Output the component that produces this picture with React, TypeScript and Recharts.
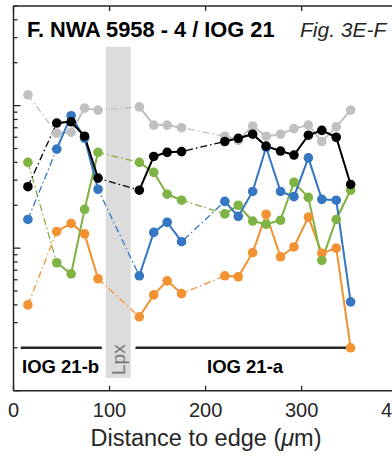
import { LineChart, Line, XAxis, YAxis, ReferenceArea, ReferenceLine } from 'recharts';

// distance to edge (µm) of each analysed spot
const distance = [15, 45, 60, 74, 88, 131, 146, 160, 175, 220, 234, 249, 263, 278, 292, 307, 321, 336, 351];
// first distance of each contiguous traverse segment (dash-dot bridges the gaps)
const segmentStarts = [45, 131, 220];

const gray = [119, 64, 65, 96, 93, 98, 73, 73, 70, 61, 57, 72, 61, 63, 69, 73, 56, 71, 93];
const orange = [4.0, 13.1, 14.9, 12.6, 6.1, 3.3, 4.7, 5.9, 4.8, 6.4, 6.3, 9.3, 17.3, 8.7, 10.2, 16.5, 9.2, 10, 2.0];
const green = [40, 7.9, 6.6, 18.7, 47, 40, 34, 23.9, 21.7, 17.4, 20, 15.5, 14.7, 15.7, 29, 22.7, 8.2, 15.9, 25.5];
const blue = [15.9, 49.5, 85, 59, 25.9, 6.4, 12.9, 15.2, 11.1, 21.3, 16.7, 25, 51, 25, 23, 43, 22, 21.7, 4.2];
const black = [27, 75.5, 77, 61, 31, 25.5, 44, 47, 47.6, 56, 59, 63, 52, 48, 45, 62, 67, 60, 28];

const xTicks = [0, 100, 200, 300, 400];
const yTicks = [1, 2, 3, 4, 5, 6, 7, 8, 9, 10, 20, 30, 40, 50, 60, 70, 80, 90, 100, 200, 300, 400, 500];
const majorTicks = [1, 10, 100];

const lpxBand = { x1: 96, x2: 122, y1: 1.23, y2: 259 };
const zoneLineLevel = 2;
const zoneB = [7.5, 92];
const zoneA = [127, 350];

const series = [
  { key: 'gray', values: gray, color: '#c0c0c0' },
  { key: 'orange', values: orange, color: '#f29233' },
  { key: 'green', values: green, color: '#7fb343' },
  { key: 'blue', values: blue, color: '#3677c3' },
  { key: 'black', values: black, color: '#000000' },
];

type Row = { d: number; [k: string]: number | null };

const rows: Row[] = [];
distance.forEach((d, i) => {
  if (segmentStarts.includes(d) && i > 0) {
    const gap: Row = { d: (distance[i - 1] + d) / 2 };
    series.forEach((s) => (gap[s.key] = null));
    rows.push(gap);
  }
  const row: Row = { d };
  series.forEach((s) => (row[s.key] = s.values[i]));
  rows.push(row);
});

const FONT = '"Liberation Sans", Arial, Helvetica, sans-serif';
const INK = '#262626';

const BottomTick = (props: any) => {
  const { x, y, payload } = props;
  return (
    <g>
      <line x1={x} y1={y} x2={x} y2={y - 5} stroke={INK} strokeWidth={1.3} />
      <text x={x} y={y + 26} textAnchor="middle" fontSize={20} fill={INK} fontFamily={FONT}>
        {payload.value}
      </text>
    </g>
  );
};

const TopTick = (props: any) => {
  const { x, y } = props;
  return <line x1={x} y1={y} x2={x} y2={y + 5} stroke={INK} strokeWidth={1.3} />;
};

const LeftTick = (props: any) => {
  const { x, y, payload } = props;
  const len = majorTicks.includes(payload.value) ? 7 : 4;
  return <line x1={x} y1={y} x2={x + len} y2={y} stroke={INK} strokeWidth={1.3} />;
};

export default function App() {
  return (
    <div style={{ position: 'absolute', left: 0, top: 0, width: 392, height: 457, overflow: 'hidden', background: '#fff', fontFamily: FONT }}>
      <LineChart width={420} height={457} data={rows} margin={{ top: 5, right: 22.3, left: 12.5, bottom: 0.3 }}>
        <ReferenceArea x1={lpxBand.x1} x2={lpxBand.x2} y1={lpxBand.y1} y2={lpxBand.y2} fill="#dcdcdc" fillOpacity={1} stroke="none" />
        <XAxis
          dataKey="d"
          type="number"
          domain={[0, 400]}
          ticks={xTicks}
          height={66}
          tickSize={0}
          tickMargin={0}
          tickLine={false}
          tick={BottomTick}
          axisLine={{ stroke: INK, strokeWidth: 1.5 }}
          allowDataOverflow
        />
        <XAxis
          xAxisId="top"
          orientation="top"
          dataKey="d"
          type="number"
          domain={[0, 400]}
          ticks={xTicks}
          height={1}
          tickSize={0}
          tickMargin={0}
          tickLine={false}
          tick={TopTick}
          axisLine={{ stroke: INK, strokeWidth: 1.5 }}
          allowDataOverflow
        />
        <YAxis
          scale="log"
          domain={[1, 500]}
          ticks={yTicks}
          width={1}
          tickSize={0}
          tickMargin={0}
          tickLine={false}
          tick={LeftTick}
          interval={0}
          axisLine={{ stroke: INK, strokeWidth: 1.5 }}
          allowDataOverflow
        />
        <ReferenceLine segment={[{ x: zoneB[0], y: zoneLineLevel }, { x: zoneB[1], y: zoneLineLevel }]} stroke={INK} strokeWidth={2.5} />
        <ReferenceLine segment={[{ x: zoneA[0], y: zoneLineLevel }, { x: zoneA[1], y: zoneLineLevel }]} stroke={INK} strokeWidth={2.5} />
        {series.map((s) => (
          <Line
            key={s.key + '-bridge'}
            dataKey={s.key}
            type="linear"
            connectNulls
            stroke={s.color}
            strokeWidth={1.3}
            strokeDasharray="7 3 1.5 3"
            dot={false}
            activeDot={false}
            isAnimationActive={false}
          />
        ))}
        {series.map((s) => (
          <Line
            key={s.key}
            dataKey={s.key}
            type="linear"
            stroke={s.color}
            strokeWidth={2}
            dot={{ r: 4.8, fill: s.color, stroke: s.color, strokeWidth: 0 }}
            activeDot={false}
            isAnimationActive={false}
          />
        ))}
      </LineChart>
      <svg width={392} height={457} style={{ position: 'absolute', left: 0, top: 0, pointerEvents: 'none' }} fontFamily={FONT}>
        <text x={27} y={37} fontSize={21.8} fontWeight="bold" fill="#000">
          F. NWA 5958 - 4 / IOG 21
        </text>
        <text x={300} y={37} fontSize={21} fontStyle="italic" fill={INK}>
          Fig. 3E-F
        </text>
        <text x={22} y={373} fontSize={18.5} fontWeight="bold" fill="#000">
          IOG 21-b
        </text>
        <text x={207} y={373} fontSize={18.5} fontWeight="bold" fill="#000">
          IOG 21-a
        </text>
        <text x={124.5} y={375} fontSize={19} fill="#777" transform="rotate(-90 124.5 375)">
          Lpx
        </text>
        <text x={206} y={446} fontSize={23.5} textAnchor="middle" fill={INK}>
          Distance to edge (<tspan fontStyle="italic">μ</tspan>m)
        </text>
      </svg>
    </div>
  );
}
